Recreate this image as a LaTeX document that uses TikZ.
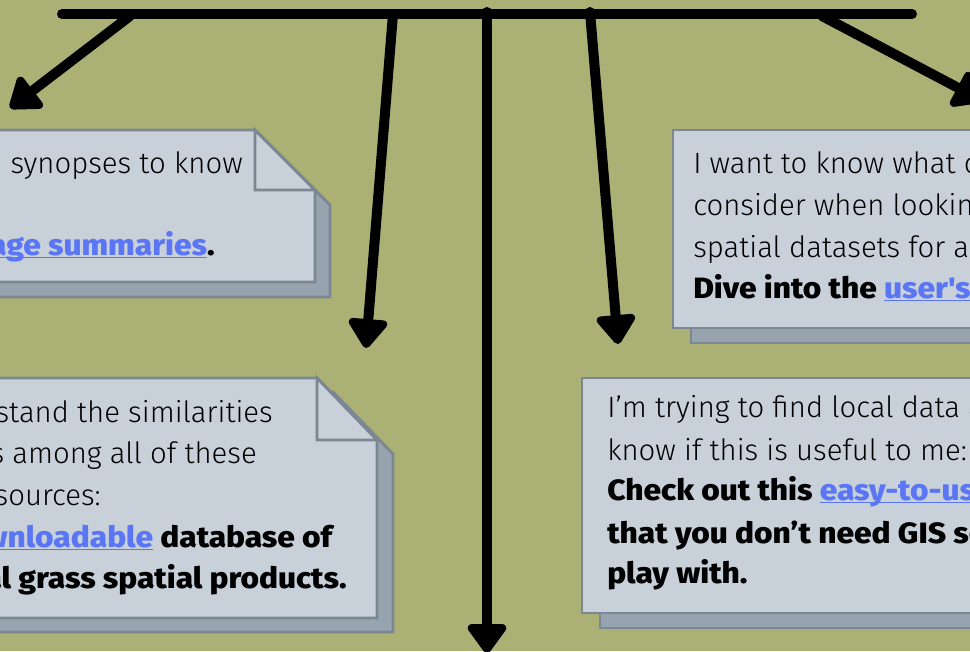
\documentclass[tikz,border=0pt]{standalone}
\usepackage{fontspec}
\setmainfont{Fira Sans Light}[BoldFont={Fira Sans ExtraBold}, BoldFeatures={FakeStretch=1.08}]
\usetikzlibrary{arrows.meta}

\definecolor{fieldgreen}{HTML}{ABB174}
\definecolor{cardfill}{HTML}{C8D0D9}
\definecolor{cardline}{HTML}{7B8792}
\definecolor{cardshade}{HTML}{97A3AE}
\definecolor{linkblue}{HTML}{5A76F5}

% underlined link text
\newcommand{\weblink}[1]{\textcolor{linkblue}{\setbox0\hbox{#1}\rlap{\rule[-2.6pt]{\wd0}{1.3pt}}\box0}}

\tikzset{
  card/.style={fill=cardfill, draw=cardline, line width=2.2pt, line join=miter},
  shade/.style={fill=cardshade, draw=cardline, line width=2.2pt, line join=miter},
  bar/.style={line width=7.5pt, line cap=round},
  branch/.style={line width=7.5pt, line cap=round, -{Triangle[round, length=24pt, width=33pt]}},
  txtl/.style={anchor=base west, inner sep=0pt, font=\fontsize{22}{26}\selectfont},
  txtr/.style={anchor=base east, inner sep=0pt, font=\fontsize{22}{26}\selectfont},
}

\begin{document}
\begin{tikzpicture}[x=0.75pt,y=0.75pt,yscale=-1,xscale=1]
\clip (0,0) rectangle (970,651);
\fill[fieldgreen] (0,0) rectangle (970,651);

% Card: top left
\draw[shade] (-5,145) -- (270,145) -- (330,205) -- (330,297) -- (-5,297) -- cycle;
\draw[card] (-20,130) -- (255,130) -- (315,190) -- (315,282) -- (-20,282) -- cycle;
\draw[card] (255,130) -- (255,190) -- (315,190) -- cycle;
% Card: bottom left
\draw[shade] (-4,392) -- (333,392) -- (393,454) -- (393,632) -- (-4,632) -- cycle;
\draw[card] (-20,378) -- (317,378) -- (377,440) -- (377,618) -- (-20,618) -- cycle;
\draw[card] (317,378) -- (317,440) -- (377,440) -- cycle;
% Card: bottom right
\draw[shade] (600,393) rectangle (1000,628);
\draw[card] (582,378) rectangle (990,613);
% Card: top right
\draw[shade] (691,145) rectangle (1000,343);
\draw[card] (673,130) rectangle (990,328);

% Text Node
\node (s1) [txtr] at (243,173) {synopses to know};
\node (s2) [txtr] at (215,255) {\textbf{\weblink{age summaries}.}};
% Text Node
\node (c1) [txtr] at (273,422) {stand the similarities};
\node (c2) [txtr] at (257,463) {s among all of these};
\node (c3) [txtr] at (101,505) {sources:};
\node (c4) [txtr] at (335,547) {\textbf{\weblink{wnloadable} database of}};
\node (c5) [txtr] at (347,588) {\textbf{al grass spatial products.}};
% Text Node
\node (l1) [txtl] at (607,417) {I’m trying to find local data a};
\node (l2) [txtl] at (607,460) {know if this is useful to me:};
\node (l3) [txtl] at (607,500) {\textbf{Check out this \weblink{easy-to-use}}};
\node (l4) [txtl] at (607,543) {\textbf{that you don’t need GIS so}};
\node (l5) [txtl] at (607,583) {\textbf{play with.}};
% Text Node
\node (u1) [txtl] at (693,173) {I want to know what c};
\node (u2) [txtl] at (693,215) {consider when looking};
\node (u3) [txtl] at (693,257) {spatial datasets for a};
\node (u4) [txtl] at (693,298) {\textbf{Dive into the \weblink{user\textquotesingle s}}};

% Connection ends
\coordinate (barL) at (62,14);
\coordinate (barR) at (912,14);
\coordinate (b1) at (130,16);  \coordinate (t1) at (10,108);
\coordinate (b2) at (393,14);  \coordinate (t2) at (366,348);
\coordinate (b3) at (487,12);  \coordinate (t3) at (487,653);
\coordinate (b4) at (590,12);  \coordinate (t4) at (618,344);
\coordinate (b5) at (822,16);  \coordinate (t5) at (983,101);

% Connection
\draw[branch] (b1) -- (t1);
\draw[branch] (b2) -- (t2);
\draw[branch] (b3) -- (t3);
\draw[branch] (b4) -- (t4);
\draw[branch] (b5) -- (t5);
\draw[bar] (barL) -- (barR);

\end{tikzpicture}
\end{document}
